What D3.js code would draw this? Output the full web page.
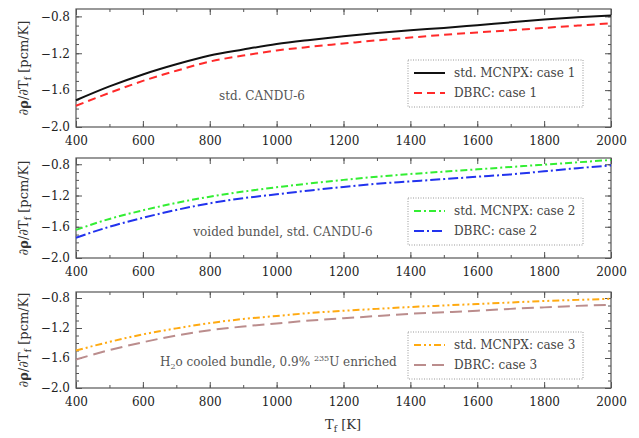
<!DOCTYPE html>
<html>
<head>
<meta charset="utf-8">
<script src="https://cdn.jsdelivr.net/npm/d3@7"></script>
<style>
  body { margin: 0; background: #fff; }
  svg { display: block; font-family: "DejaVu Serif", serif; }
</style>
</head>
<body>
<svg id="chart" width="639" height="438"></svg>
<script>
// temperatures (K)
var temps = [400, 500, 600, 700, 800, 900, 1000, 1100, 1200, 1300, 1400, 1500, 1600, 1700, 1800, 1900, 2000];

// case 1 - std. CANDU-6
var mcnpx1 = [-1.71, -1.56, -1.43, -1.32, -1.225, -1.16, -1.10, -1.055, -1.015, -0.98, -0.95, -0.925, -0.895, -0.865, -0.835, -0.81, -0.79];
var dbrc1  = [-1.77, -1.63, -1.50, -1.39, -1.29, -1.225, -1.17, -1.13, -1.095, -1.06, -1.03, -1.00, -0.975, -0.95, -0.925, -0.90, -0.876];

// case 2 - voided bundle
var mcnpx2 = [-1.64, -1.50, -1.39, -1.295, -1.215, -1.15, -1.095, -1.045, -1.00, -0.96, -0.925, -0.895, -0.865, -0.835, -0.805, -0.775, -0.745];
var dbrc2  = [-1.74, -1.60, -1.485, -1.385, -1.30, -1.235, -1.185, -1.135, -1.09, -1.05, -1.02, -0.99, -0.96, -0.93, -0.89, -0.85, -0.815];

// case 3 - H2O cooled, 0.9% enriched
var mcnpx3 = [-1.50, -1.385, -1.285, -1.205, -1.135, -1.08, -1.04, -1.00, -0.97, -0.945, -0.92, -0.90, -0.88, -0.86, -0.84, -0.825, -0.81];
var dbrc3  = [-1.62, -1.495, -1.39, -1.30, -1.23, -1.18, -1.14, -1.10, -1.07, -1.04, -1.01, -0.99, -0.97, -0.945, -0.925, -0.905, -0.89];

var xTicks = [400, 600, 800, 1000, 1200, 1400, 1600, 1800, 2000];
var yTicks = [-2.0, -1.6, -1.2, -0.8];

var panels = [
  { top: 9, bottom: 127, note: "std. CANDU-6", noteX: 262, noteY: 100,
    series: [
      { name: "std. MCNPX: case 1", vals: mcnpx1, color: "#111", dash: null },
      { name: "DBRC: case 1", vals: dbrc1, color: "#ff2a2a", dash: "8,5" }
    ],
    legendY: 60 },
  { top: 158, bottom: 258, note: "voided bundel, std. CANDU-6", noteX: 283, noteY: 236,
    series: [
      { name: "std. MCNPX: case 2", vals: mcnpx2, color: "#33ee33", dash: "7,3,2,3" },
      { name: "DBRC: case 2", vals: dbrc2, color: "#2233ee", dash: "10,3,2,3" }
    ],
    legendY: 198 },
  { top: 292, bottom: 388, note: null,
    series: [
      { name: "std. MCNPX: case 3", vals: mcnpx3, color: "#ffaa11", dash: "7,3,2,3,2,3" },
      { name: "DBRC: case 3", vals: dbrc3, color: "#bb8d8d", dash: "12,6" }
    ],
    legendY: 332 }
];

var left = 76, right = 611;
var svg = d3.select("#chart");

var x = d3.scaleLinear().domain([400, 2000]).range([left, right]);
var xMinor = d3.range(400, 2001, 100);
var yMinor = d3.range(-2.0, -0.75, 0.1).map(function(d) { return +d.toFixed(1); });

panels.forEach(function(p) {
  var y = d3.scaleLinear().domain([-2.0, -0.72]).range([p.bottom, p.top]);
  var g = svg.append("g");

  // ticks on all four sides, pointing inward
  function axisSet(axis, transform, size, vals, fmt) {
    var a = g.append("g").attr("transform", transform)
      .call(axis.tickValues(vals).tickSize(size).tickSizeOuter(0)
        .tickFormat(fmt || function() { return ""; }));
    a.select(".domain").remove();
    a.selectAll("line").attr("stroke", "#555").attr("stroke-width", 1);
    return a;
  }
  axisSet(d3.axisBottom(x), "translate(0," + p.bottom + ")", -3, xMinor);
  axisSet(d3.axisTop(x), "translate(0," + p.top + ")", -3, xMinor);
  axisSet(d3.axisTop(x), "translate(0," + p.top + ")", -6, xTicks);
  var xb = axisSet(d3.axisBottom(x), "translate(0," + p.bottom + ")", -6, xTicks, d3.format("d"));
  xb.selectAll("text").attr("y", 9).attr("font-size", 12).attr("fill", "#222")
    .attr("font-family", "DejaVu Serif");

  axisSet(d3.axisLeft(y), "translate(" + left + ",0)", -3, yMinor);
  axisSet(d3.axisRight(y), "translate(" + right + ",0)", -3, yMinor);
  axisSet(d3.axisRight(y), "translate(" + right + ",0)", -6, yTicks);
  var yl = axisSet(d3.axisLeft(y), "translate(" + left + ",0)", -6, yTicks, d3.format(".1f"));
  yl.selectAll("text").attr("x", -6).attr("font-size", 12).attr("fill", "#222")
    .attr("font-family", "DejaVu Serif");

  // frame
  g.append("rect")
    .attr("x", left).attr("y", p.top)
    .attr("width", right - left).attr("height", p.bottom - p.top)
    .attr("fill", "none").attr("stroke", "#555").attr("stroke-width", 1.2);

  // curves
  var line = d3.line()
    .curve(d3.curveMonotoneX)
    .x(function(d, i) { return x(temps[i]); })
    .y(function(d) { return y(d); });

  p.series.forEach(function(s) {
    g.append("path")
      .attr("d", line(s.vals))
      .attr("fill", "none")
      .attr("stroke", s.color)
      .attr("stroke-width", 2)
      .attr("stroke-dasharray", s.dash);
  });

  // legend
  var lg = g.append("g").attr("transform", "translate(408," + p.legendY + ")");
  lg.append("rect").attr("width", 175).attr("height", 47)
    .attr("fill", "#fff").attr("stroke", "#999").attr("stroke-width", 1)
    .attr("stroke-dasharray", "1,1.5");
  p.series.forEach(function(s, i) {
    var ly = 13 + i * 20;
    lg.append("line").attr("x1", 6).attr("x2", 37).attr("y1", ly).attr("y2", ly)
      .attr("stroke", s.color).attr("stroke-width", 2).attr("stroke-dasharray", s.dash);
    lg.append("text").attr("x", 46).attr("y", ly + 4)
      .attr("font-size", 12).attr("fill", "#444").text(s.name);
  });

  // note
  if (p.note) {
    g.append("text").attr("x", p.noteX).attr("y", p.noteY)
      .attr("text-anchor", "middle").attr("font-size", 12).attr("fill", "#555")
      .text(p.note);
  }

  // y label
  var lab = g.append("text")
    .attr("transform", "translate(28," + ((p.top + p.bottom) / 2) + ") rotate(-90)")
    .attr("text-anchor", "middle").attr("font-size", 13).attr("fill", "#333");
  lab.append("tspan").text("∂");
  lab.append("tspan").attr("font-weight", "bold").text("ρ");
  lab.append("tspan").text("/∂T");
  lab.append("tspan").attr("font-size", 9).attr("dy", 3).text("f");
  lab.append("tspan").attr("dy", -3).text(" [pcm/K]");
});

// note for panel 3 with sub/superscripts
var n3 = svg.append("text").attr("x", 160).attr("y", 366)
  .attr("font-size", 12).attr("fill", "#555");
n3.append("tspan").text("H");
n3.append("tspan").attr("font-size", 8).attr("dy", 3).text("2");
n3.append("tspan").attr("dy", -3).text("o cooled bundle, 0.9% ");
n3.append("tspan").attr("font-size", 8).attr("dy", -5).text("235");
n3.append("tspan").attr("dy", 5).text("U enriched");

// x label
var xl = svg.append("text").attr("x", 343).attr("y", 429)
  .attr("text-anchor", "middle").attr("font-size", 13).attr("fill", "#333");
xl.append("tspan").text("T");
xl.append("tspan").attr("font-size", 9).attr("dy", 3).text("f");
xl.append("tspan").attr("dy", -3).text(" [K]");
</script>
</body>
</html>
